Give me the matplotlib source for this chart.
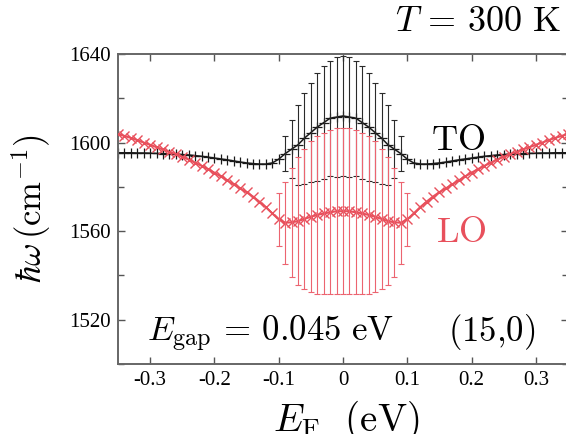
import numpy as np
import matplotlib
matplotlib.use("Agg")
import matplotlib.pyplot as plt
from matplotlib.ticker import MultipleLocator, FixedLocator

plt.rcParams['font.family'] = 'serif'
plt.rcParams['font.serif'] = ['Liberation Serif', 'DejaVu Serif']
plt.rcParams['mathtext.fontset'] = 'cm'
plt.rcParams['axes.unicode_minus'] = False

# Fermi energy grid (eV), one point every 10 meV
E_F = np.round(np.arange(-0.35, 0.3501, 0.01), 2)

# TO mode (cm^-1), left half from -0.35 to 0 (curve is symmetric)
TO_left = [1595.4, 1595.4, 1595.4, 1595.3, 1595.3, 1595.2, 1595.1, 1595.0, 1594.9, 1594.8,
           1594.6, 1594.4, 1594.1, 1593.8, 1593.4, 1593.0, 1592.6, 1592.2, 1591.7, 1591.2,
           1590.8, 1590.5, 1590.3, 1590.3, 1590.8, 1592.5,
           1595.0, 1597.0, 1599.0, 1602.0, 1604.5, 1607.0, 1609.0, 1611.0, 1611.5, 1612.0]
# TO spread inside the gap region, E_F = -0.09 ... 0
TO_err_left = [8.0, 13.0, 18.0, 20.5, 22.5, 24.5, 25.5, 26.0, 27.0, 27.0]

# LO mode (cm^-1), left half from -0.35 to 0
LO_left = [1603.8, 1603.0, 1602.1, 1601.1, 1600.0, 1599.0, 1597.9, 1596.9, 1595.8, 1594.8,
           1593.6, 1592.3, 1590.9, 1589.5, 1588.0, 1586.4, 1584.7, 1582.9, 1581.1, 1579.3,
           1577.6, 1575.6, 1573.3, 1570.8, 1568.0,
           1565.3, 1563.8, 1564.0, 1564.5, 1565.5, 1566.5, 1567.3, 1568.0, 1568.5, 1569.0, 1569.0]
# LO spread, E_F = -0.10 ... 0
LO_err_left = [12.0, 18.5, 24.5, 29.0, 31.5, 34.0, 35.5, 36.5, 37.0, 37.5, 37.5]

TO = np.array(TO_left + TO_left[-2::-1])
LO = np.array(LO_left + LO_left[-2::-1])
TO_err = np.array(TO_err_left + TO_err_left[-2::-1])
LO_err = np.array(LO_err_left + LO_err_left[-2::-1])
to_mask = np.abs(E_F) <= 0.09 + 1e-9
lo_mask = np.abs(E_F) <= 0.10 + 1e-9

black = '#1a1a1a'
red = '#e8505c'

fig = plt.figure(figsize=(5.66, 4.34), dpi=100)
ax = fig.add_axes([118 / 566, 1 - 364 / 434, 450 / 566, 310 / 434])

ax.plot(E_F, TO, color=black, lw=1.1, marker='+', ms=7, mew=0.9, zorder=2)
ax.errorbar(E_F[to_mask], TO[to_mask], yerr=TO_err, fmt='none',
            ecolor='#2a2a2a', elinewidth=0.8, capsize=2.5, capthick=0.8, zorder=2)
ax.plot(E_F, LO, color=red, lw=1.5, marker='x', ms=6.5, mew=1.0, zorder=3)
ax.errorbar(E_F[lo_mask], LO[lo_mask], yerr=LO_err, fmt='none',
            ecolor='#ec6470', elinewidth=0.8, capsize=2.5, capthick=0.8, zorder=3)

ax.set_xlim(-0.35, 0.35)
ax.set_ylim(1500, 1640)
ax.xaxis.set_major_locator(FixedLocator([-0.3, -0.2, -0.1, 0, 0.1, 0.2, 0.3]))
ax.set_xticklabels(['-0.3', '-0.2', '-0.1', '0', '0.1', '0.2', '0.3'])
ax.set_yticks([1520, 1560, 1600, 1640])
ax.yaxis.set_minor_locator(MultipleLocator(20))
ax.tick_params(which='both', direction='in', top=True, right=True,
               color='#555555', labelsize=15, pad=5)
ax.tick_params(which='major', length=5, width=1)
ax.tick_params(which='minor', length=4, width=1)
for s in ax.spines.values():
    s.set_color('#666666')
    s.set_linewidth(1.4)

fig.text(346 / 566, 1 - 399 / 434, r'$E_{\rm F}\ \ {\rm (eV)}$', fontsize=28,
         ha='center', va='top')
ax.set_ylabel(r'$\hbar\omega\,({\rm cm}^{-1})$', fontsize=25, labelpad=12)

fig.text(561 / 566, 1 - 31 / 434, r'$T\,=\,300\ {\rm K}$', fontsize=26,
         ha='right', va='baseline')
ax.text(0.137, 1596.5, r'${\rm TO}$', fontsize=26, color='black', va='baseline')
ax.text(0.144, 1555.0, r'${\rm LO}$', fontsize=26, color=red, va='baseline')
ax.text(-0.305, 1510.5, r'$E_{\rm gap}\,=\,0.045\ {\rm eV}$', fontsize=25, va='baseline')
ax.text(0.163, 1510.5, r'${\rm (15{,}0)}$', fontsize=25, va='baseline')

fig.savefig('out.png', dpi=100)
